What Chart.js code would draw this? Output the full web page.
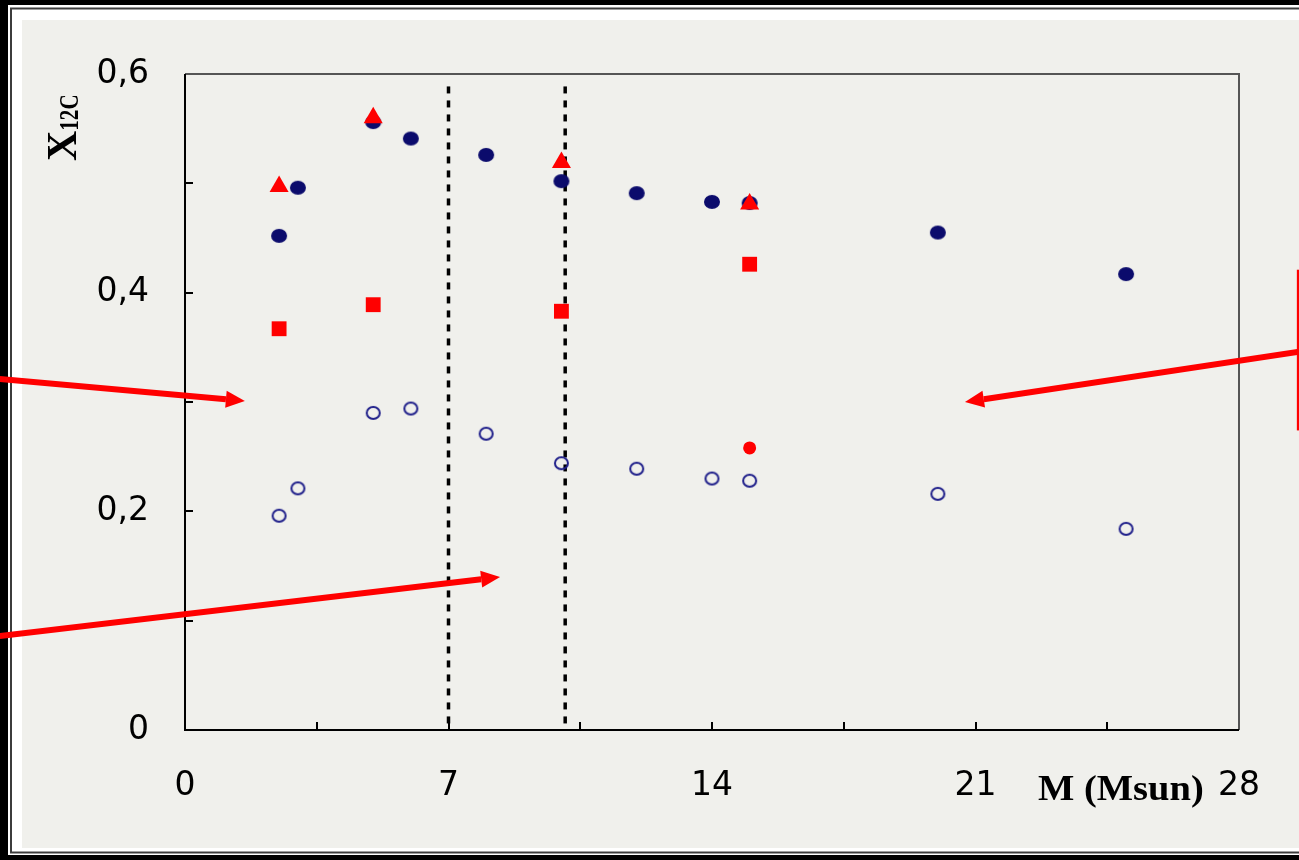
<!DOCTYPE html>
<html>
<head>
<meta charset="utf-8">
<script src="https://cdn.jsdelivr.net/npm/chart.js@4.4.1/dist/chart.umd.min.js"></script>
<style>
  html, body { margin: 0; padding: 0; background: #000; }
  #wrap { width: 1299px; height: 860px; position: relative; }
</style>
</head>
<body>
<div id="wrap"><canvas id="c"></canvas></div>
<script>
// Stellar model masses (Msun) and core 12C mass fractions
const modelMass = [2.5, 3, 5, 6, 8, 10, 12, 14, 15, 20, 25];
const x12cFilled = [0.452, 0.496, 0.556, 0.541, 0.526, 0.502, 0.491, 0.483, 0.482, 0.455, 0.417];
const x12cOpen   = [0.196, 0.221, 0.290, 0.294, 0.271, 0.244, 0.239, 0.230, 0.228, 0.216, 0.184];

const redMass     = [2.5, 5, 10, 15];
const x12cTriangle = [0.497, 0.560, 0.519, 0.481];
const x12cSquare   = [0.367, 0.389, 0.383, 0.426];

const redDotMass = [15];
const x12cRedDot = [0.258];

// Mass boundaries marked with dotted verticals
const boundaryMass = [7, 10.1];

const xTickLabels = ['0', '7', '14', '21', '28'];
const yTickLabels = ['0', '0,2', '0,4', '0,6'];

// Annotation arrows, given in axis units (start -> head)
const arrows = [
  { from: [-4.92, 0.321], to: [1.59, 0.301] },
  { from: [-4.92, 0.086], to: [8.37, 0.140] },
  { from: [29.6, 0.346],  to: [20.72, 0.300] }
];
const sideBox = { x: 29.57, y1: 0.421, y2: 0.274 };

const pts = (xs, ys) => xs.map((x, i) => ({ x, y: ys[i] }));

function ellipseMarker(w, h, fill, stroke, lw) {
  const c = document.createElement('canvas');
  c.width = w + 4; c.height = h + 4;
  const g = c.getContext('2d');
  g.beginPath();
  g.ellipse(c.width / 2, c.height / 2, w / 2 - (lw || 0) / 2, h / 2 - (lw || 0) / 2, 0, 0, Math.PI * 2);
  if (fill) { g.fillStyle = fill; g.fill(); }
  if (stroke) { g.strokeStyle = stroke; g.lineWidth = lw; g.stroke(); }
  return c;
}
const navyDot = ellipseMarker(16, 14, '#0b0b6c', null, 0);
const navyRing = ellipseMarker(15, 14, null, '#1f1f8a', 2);

const boundarySets = boundaryMass.map(m => ({
  data: [{ x: m, y: 0.006 }, { x: m, y: 0.59 }],
  showLine: true,
  borderColor: '#000',
  borderWidth: 3.5,
  borderDash: [7, 7],
  pointRadius: 0,
  fill: false
}));

const framePlugin = {
  id: 'framePlugin',
  beforeDraw(chart) {
    const { ctx, width, height } = chart;
    ctx.save();
    ctx.fillStyle = '#000';
    ctx.fillRect(0, 0, width, height);
    ctx.fillStyle = '#fff';
    ctx.fillRect(8, 5, width - 8, 850);
    ctx.strokeStyle = '#3c3c3c';
    ctx.lineWidth = 2;
    ctx.strokeRect(11, 8.5, width + 20, 844);
    ctx.fillStyle = '#f0f0ec';
    ctx.fillRect(22, 20, width - 22, 828);
    ctx.restore();
  },
  beforeDatasetsDraw(chart) {
    const { ctx, chartArea: a, scales: { x, y } } = chart;
    ctx.save();
    // plot box
    ctx.lineWidth = 2;
    ctx.strokeStyle = '#555';
    ctx.beginPath();
    ctx.moveTo(a.left, a.top); ctx.lineTo(a.right, a.top); ctx.lineTo(a.right, a.bottom);
    ctx.stroke();
    ctx.strokeStyle = '#000';
    ctx.beginPath();
    ctx.moveTo(a.left, a.top); ctx.lineTo(a.left, a.bottom); ctx.lineTo(a.right, a.bottom);
    ctx.stroke();
    // inward tick marks
    ctx.lineWidth = 2;
    ctx.beginPath();
    for (let v = 0.1; v < 0.59; v += 0.1) {
      const py = Math.round(y.getPixelForValue(v));
      ctx.moveTo(a.left, py); ctx.lineTo(a.left + 8, py);
    }
    for (let v = 3.5; v < 27.9; v += 3.5) {
      const px = Math.round(x.getPixelForValue(v));
      ctx.moveTo(px, a.bottom); ctx.lineTo(px, a.bottom - 8);
    }
    ctx.stroke();
    ctx.restore();
  },
  afterDraw(chart) {
    const { ctx, scales: { x, y } } = chart;
    ctx.save();
    // axis titles
    ctx.fillStyle = '#000';
    ctx.textBaseline = 'alphabetic';
    ctx.save();
    ctx.translate(1038, 800);
    ctx.scale(1.1, 1);
    ctx.font = 'bold 35px "Liberation Serif", "Times New Roman", serif';
    ctx.fillText('M (Msun)', 0, 0);
    ctx.restore();

    ctx.save();
    ctx.translate(76, 161);
    ctx.rotate(-Math.PI / 2);
    ctx.font = 'bold 42px "Liberation Serif", "Times New Roman", serif';
    ctx.fillText('X', 0, 0);
    const wx = ctx.measureText('X').width;
    ctx.translate(wx, 2);
    ctx.scale(0.78, 1);
    ctx.font = 'bold 27px "Liberation Serif", "Times New Roman", serif';
    ctx.fillText('12C', 0, 0);
    ctx.restore();

    // red annotation arrows
    ctx.strokeStyle = '#ff0000';
    ctx.fillStyle = '#ff0000';
    arrows.forEach(ar => {
      const x0 = x.getPixelForValue(ar.from[0]), y0 = y.getPixelForValue(ar.from[1]);
      const x1 = x.getPixelForValue(ar.to[0]), y1 = y.getPixelForValue(ar.to[1]);
      const ang = Math.atan2(y1 - y0, x1 - x0);
      const headLen = 19, headHalf = 8.5;
      const bx = x1 - headLen * Math.cos(ang), by = y1 - headLen * Math.sin(ang);
      ctx.lineWidth = 6;
      ctx.beginPath();
      ctx.moveTo(x0, y0); ctx.lineTo(bx, by);
      ctx.stroke();
      ctx.beginPath();
      ctx.moveTo(x1, y1);
      ctx.lineTo(bx + headHalf * Math.sin(ang), by - headHalf * Math.cos(ang));
      ctx.lineTo(bx - headHalf * Math.sin(ang), by + headHalf * Math.cos(ang));
      ctx.closePath();
      ctx.fill();
    });
    ctx.lineWidth = 2.5;
    ctx.beginPath();
    const sx = x.getPixelForValue(sideBox.x);
    ctx.moveTo(sx, y.getPixelForValue(sideBox.y1));
    ctx.lineTo(sx, y.getPixelForValue(sideBox.y2));
    ctx.stroke();
    ctx.restore();
  }
};

new Chart(document.getElementById('c'), {
  type: 'scatter',
  data: {
    datasets: [
      { data: pts(redMass, x12cTriangle), pointStyle: 'triangle', pointRadius: 11, backgroundColor: '#ff0000', borderWidth: 0 },
      { data: pts(redMass, x12cSquare), pointStyle: 'rect', pointRadius: 10.5, backgroundColor: '#ff0000', borderWidth: 0 },
      { data: pts(redDotMass, x12cRedDot), pointStyle: 'circle', pointRadius: 6.5, backgroundColor: '#ff0000', borderWidth: 0 },
      { data: pts(modelMass, x12cFilled), pointStyle: navyDot, pointRadius: 8 },
      { data: pts(modelMass, x12cOpen), pointStyle: navyRing, pointRadius: 8 },
      ...boundarySets
    ]
  },
  options: {
    responsive: true,
    maintainAspectRatio: false,
    animation: false,
    devicePixelRatio: 1,
    layout: { padding: { top: 74, right: 60, left: 0, bottom: 0 } },
    plugins: { legend: { display: false }, tooltip: { enabled: false } },
    scales: {
      x: {
        type: 'linear', min: 0, max: 28,
        border: { display: false },
        grid: { display: false },
        ticks: {
          stepSize: 7, padding: 29, color: '#000', maxRotation: 0, autoSkip: false,
          font: { family: 'DejaVu Sans', size: 33 },
          callback: (v, i) => xTickLabels[i]
        },
        afterFit(s) { s.height = 130; }
      },
      y: {
        type: 'linear', min: 0, max: 0.6,
        border: { display: false },
        grid: { display: false },
        ticks: {
          stepSize: 0.2, padding: 28, color: '#000', autoSkip: false,
          font: { family: 'DejaVu Sans', size: 33 },
          callback: (v, i) => yTickLabels[i]
        },
        afterFit(s) { s.width = 185; }
      }
    }
  },
  plugins: [framePlugin]
});
</script>
</body>
</html>
